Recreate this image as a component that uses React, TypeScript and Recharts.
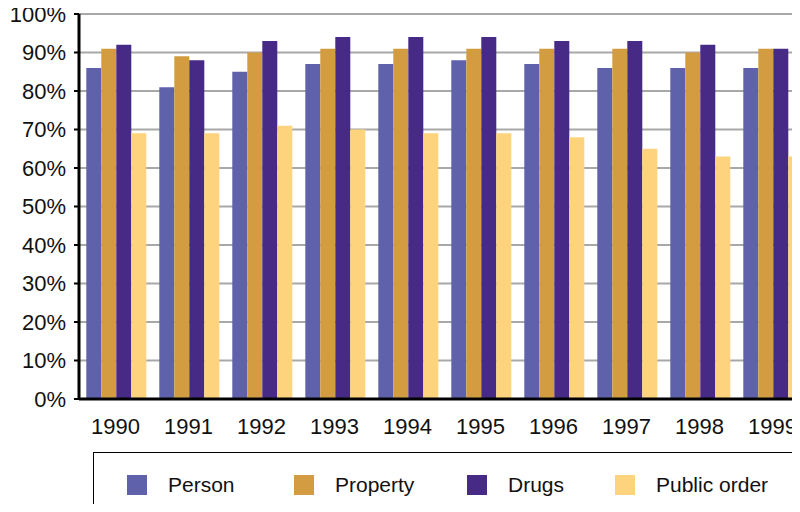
import { Bar, BarChart, CartesianGrid, XAxis, YAxis } from "recharts";

const YEARS = ["1990", "1991", "1992", "1993", "1994", "1995", "1996", "1997", "1998", "1999"];
const PERSON = [86, 81, 85, 87, 87, 88, 87, 86, 86, 86];
const PROPERTY = [91, 89, 90, 91, 91, 91, 91, 91, 90, 91];
const DRUGS = [92, 88, 93, 94, 94, 94, 93, 93, 92, 91];
const PUBLIC_ORDER = [69, 69, 71, 70, 69, 69, 68, 65, 63, 63];
const Y_TICKS = [0, 10, 20, 30, 40, 50, 60, 70, 80, 90, 100];

const SERIES = [
  { key: "person", label: "Person", color: "#5f61aa", legendX: 127 },
  { key: "property", label: "Property", color: "#d39c40", legendX: 294 },
  { key: "drugs", label: "Drugs", color: "#472a85", legendX: 467 },
  { key: "publicOrder", label: "Public order", color: "#fdd37d", legendX: 615 },
] as const;

const data = YEARS.map((year, i) => ({
  year,
  person: PERSON[i],
  property: PROPERTY[i],
  drugs: DRUGS[i],
  publicOrder: PUBLIC_ORDER[i],
}));

const FONT = '"Liberation Sans", Arial, sans-serif';

export default function App() {
  return (
    <div
      style={{
        position: "relative",
        margin: -8,
        width: 800,
        height: 512,
        overflow: "hidden",
        background: "#fff",
        fontFamily: FONT,
      }}
    >
      <BarChart
        width={830}
        height={450}
        data={data}
        margin={{ top: 14, right: 21, bottom: 0, left: 0 }}
        barCategoryGap="10%"
        barGap={0}
      >
        <CartesianGrid vertical={false} stroke="#a8a8a8" strokeWidth={2} />
        <XAxis
          dataKey="year"
          height={51}
          tickLine={false}
          tickMargin={13}
          axisLine={{ stroke: "#000", strokeWidth: 3 }}
          tick={{ fill: "#111", fontSize: 22, fontFamily: FONT }}
        />
        <YAxis
          width={79}
          domain={[0, 100]}
          ticks={Y_TICKS}
          interval={0}
          tickSize={5}
          tickMargin={8}
          tickFormatter={(v: number) => `${v}%`}
          tickLine={{ stroke: "#000", strokeWidth: 2 }}
          axisLine={{ stroke: "#000", strokeWidth: 3 }}
          tick={{ fill: "#111", fontSize: 22, fontFamily: FONT }}
        />
        {SERIES.map((s) => (
          <Bar key={s.key} dataKey={s.key} fill={s.color} isAnimationActive={false} />
        ))}
      </BarChart>
      <div
        style={{
          position: "absolute",
          left: 93,
          top: 452,
          width: 800,
          height: 100,
          border: "1px solid #000",
        }}
      />
      {SERIES.map((s) => (
        <div
          key={s.key}
          style={{
            position: "absolute",
            left: s.legendX,
            top: 475,
            display: "flex",
            alignItems: "center",
            height: 20,
            whiteSpace: "nowrap",
          }}
        >
          <span style={{ width: 20, height: 20, background: s.color, display: "inline-block" }} />
          <span style={{ marginLeft: 21, fontSize: 21, color: "#111" }}>{s.label}</span>
        </div>
      ))}
    </div>
  );
}
